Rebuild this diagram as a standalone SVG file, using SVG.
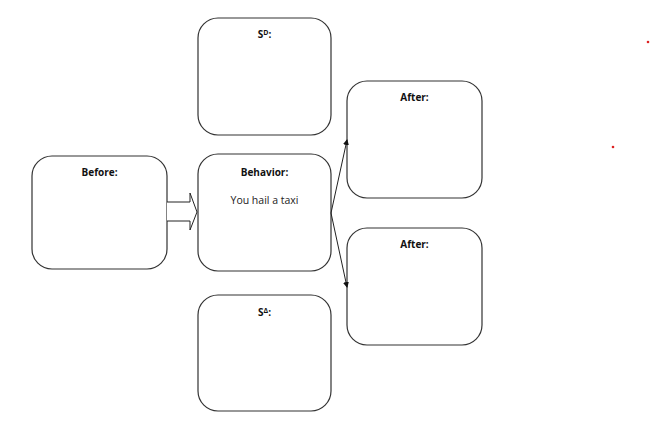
<svg xmlns="http://www.w3.org/2000/svg" width="650" height="431" viewBox="0 0 650 431">
<style>
.b{fill:#fff;stroke:#333;stroke-width:1.2}
.t{font-family:"Open Sans","DejaVu Sans",sans-serif;font-size:10px;font-weight:bold;text-anchor:middle;fill:#111}
.n{font-family:"Open Sans","DejaVu Sans",sans-serif;font-size:10.5px;text-anchor:middle;fill:#222}
</style>
<defs><marker id="a" markerWidth="6" markerHeight="6" refX="5" refY="3" orient="auto"><path d="M0,0L6,3L0,6z" fill="#111"/></marker></defs>
<rect width="650" height="431" fill="#fff"/>
<g id="before"><rect class="b" x="32" y="156" width="135" height="113" rx="20"/><text class="t" x="99.5" y="176">Before:</text></g>
<g id="sd"><rect class="b" x="198" y="18" width="133" height="117" rx="20"/><text class="t" x="264.5" y="38">S<tspan font-size="7" dy="-3">D</tspan><tspan dy="3">:</tspan></text></g>
<g id="behavior"><rect class="b" x="198" y="154" width="133" height="117" rx="20"/><text class="t" x="264.5" y="176">Behavior:</text><text class="n" x="264.5" y="204">You hail a taxi</text></g>
<g id="sdelta"><rect class="b" x="198" y="295" width="133" height="116" rx="20"/><text class="t" x="264.5" y="316">S<tspan font-size="7" dy="-3">Δ</tspan><tspan dy="3">:</tspan></text></g>
<g id="after1"><rect class="b" x="347" y="81" width="135" height="117" rx="20"/><text class="t" x="414.5" y="101">After:</text></g>
<g id="after2"><rect class="b" x="347" y="228" width="135" height="117" rx="20"/><text class="t" x="414.5" y="248">After:</text></g>
<g id="connectors" fill="none" stroke="#222" stroke-width="1">
<path d="M167,202H190V193L197,212L190,230V221H167" fill="#fff"/>
<line x1="331" y1="213" x2="347" y2="140" marker-end="url(#a)"/>
<line x1="331" y1="213" x2="347" y2="287" marker-end="url(#a)"/>
</g>
<circle cx="648" cy="42" r="1.3" fill="#d22"/>
<circle cx="613" cy="147" r="1.3" fill="#d22"/>
</svg>
